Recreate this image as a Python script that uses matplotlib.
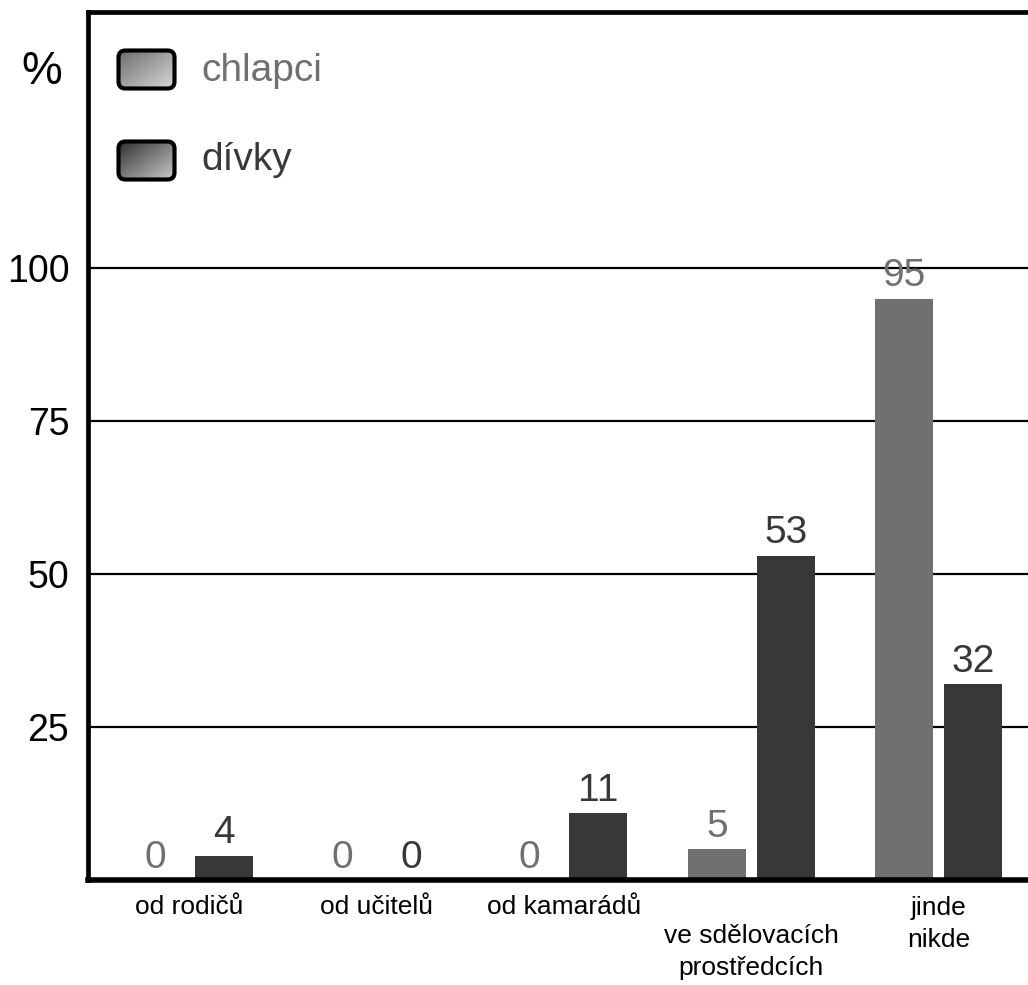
import numpy as np
import matplotlib
matplotlib.use("Agg")
import matplotlib.pyplot as plt
from matplotlib.patches import FancyBboxPatch

plt.rcParams['font.family'] = ['Liberation Sans', 'DejaVu Sans']

# Data
categories = ["od rodičů", "od učitelů", "od kamarádů",
              "ve sdělovacích\nprostředcích", "jinde\nnikde"]
series_names = ["chlapci", "dívky"]
chlapci = [0, 0, 0, 5, 95]
divky = [4, 0, 11, 53, 32]
yticks = [25, 50, 75, 100]

# Styling
W, H = 1028, 985
c_boys = "#707070"
c_girls = "#383838"

fig = plt.figure(figsize=(W / 100, H / 100), dpi=100)
fig.patch.set_facecolor("white")

ax_left, ax_top, ax_bottom = 88, 12, 880
ax = fig.add_axes([ax_left / W, (H - ax_bottom) / H, 1 - ax_left / W,
                   (ax_bottom - ax_top) / H])

x = np.arange(len(categories))
bw = 0.31
off = 0.184
ax.bar(x - off, chlapci, bw, color=c_boys, zorder=3)
ax.bar(x + off, divky, bw, color=c_girls, zorder=3)

# value labels above bars
for xi, v in zip(x - off, chlapci):
    ax.annotate(str(v), (xi, v), xytext=(0, 3), textcoords="offset points",
                ha="center", va="bottom", fontsize=28, color=c_boys)
for xi, v in zip(x + off, divky):
    ax.annotate(str(v), (xi, v), xytext=(0, 3), textcoords="offset points",
                ha="center", va="bottom", fontsize=28, color=c_girls)

# axis ranges
px_per_unit = 187.25
ax.set_xlim(-(189.5 - ax_left) / px_per_unit, (W - 189.5) / px_per_unit)
ax.set_ylim(0, (ax_bottom - ax_top) / 6.12)

ax.set_yticks(yticks)
ax.set_yticklabels([str(t) for t in yticks], fontsize=27)
ax.tick_params(axis="y", length=0, pad=13.5)
ax.set_xticks([])
ax.yaxis.grid(True, color="black", linewidth=1.6, zorder=1)
ax.set_axisbelow(True)

for s in ["left", "top"]:
    ax.spines[s].set_linewidth(3.4)
ax.spines["bottom"].set_linewidth(4.0)
ax.spines["bottom"].set_zorder(5)
ax.spines["right"].set_visible(False)

# category labels below axis (baseline of the last line, pixels from top)
label_baselines = [914, 914, 914, 975, 947]
for xi, lab, base in zip(x, categories, label_baselines):
    ax.annotate(lab, (xi, 0), xycoords=("data", "axes fraction"),
                xytext=(0, -(base - ax_bottom) * 0.72),
                textcoords="offset points", ha="center", va="baseline",
                fontsize=19, linespacing=1.4, color="black",
                annotation_clip=False)

# percent sign
fig.text(42 / W, 1 - 84 / H, "%", fontsize=33, ha="center", va="baseline")

# legend with gradient swatches
def swatch(top_px, c0, c1):
    sw, sh = 61, 43
    sax = fig.add_axes([116 / W, 1 - (top_px + sh) / H, sw / W, sh / H])
    sax.set_xlim(0, sw)
    sax.set_ylim(0, sh)
    sax.axis("off")
    cols, rows = np.meshgrid(np.linspace(0, 1, 120), np.linspace(0, 1, 90))
    t = (cols + rows) / 2
    c0 = np.array(matplotlib.colors.to_rgb(c0))
    c1 = np.array(matplotlib.colors.to_rgb(c1))
    img = c0[None, None, :] + (c1 - c0)[None, None, :] * t[..., None]
    im = sax.imshow(img, extent=(0, sw, 0, sh), origin="upper", aspect="auto")
    box = FancyBboxPatch((2.5, 2.5), sw - 5, sh - 5,
                         boxstyle="round,pad=0,rounding_size=7",
                         facecolor="none", edgecolor="black", linewidth=3)
    sax.add_patch(box)
    im.set_clip_path(box)

swatch(48, "#666666", "#dedede")
swatch(139, "#262626", "#d4d4d4")

fig.text(201 / W, 1 - 81 / H, series_names[0], fontsize=28,
         color=c_boys, va="baseline")
fig.text(201 / W, 1 - 170 / H, series_names[1], fontsize=28,
         color=c_girls, va="baseline")

fig.savefig("out.png", dpi=100, facecolor="white")
